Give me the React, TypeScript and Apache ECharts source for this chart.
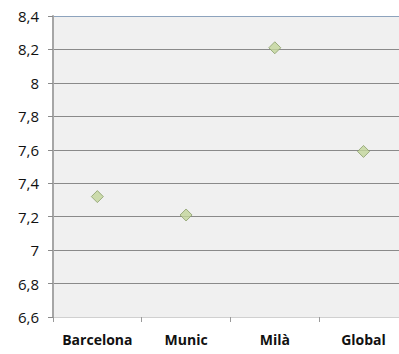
import React, { useEffect, useRef } from "react";
import * as echarts from "echarts";

const categories = ["Barcelona", "Munic", "Milà", "Global"];
const values = [7.32, 7.21, 8.21, 7.59];
const yMin = 6.6;
const yMax = 8.4;
const yStep = 0.2;

export default function App() {
  const ref = useRef<HTMLDivElement>(null);
  useEffect(() => {
    document.body.style.margin = "0";
    document.body.style.overflow = "hidden";
    const chart = echarts.init(ref.current!, null, { renderer: "svg" });
    const splitColors = Array.from({ length: 10 }, (_, i) => (i === 9 ? "#8da3bd" : "#8a8a8a"));
    const slots = categories.map((_, i) => i);
    const centers = categories.map((_, i) => i + 0.5);
    chart.setOption({
      animation: false,
      backgroundColor: "#ffffff",
      grid: {
        left: 53,
        top: 16,
        bottom: 37,
        right: 0,
        outerBoundsMode: "none",
        containLabel: false,
        show: true,
        backgroundColor: "#f0f0f0",
        borderWidth: 0,
      },
      xAxis: {
        type: "value",
        min: 0,
        max: 3.9,
        splitLine: { show: false },
        axisLine: { show: true, onZero: false, lineStyle: { color: "#d0d0d0", width: 1 } },
        axisTick: { show: true, customValues: slots, length: 5, lineStyle: { color: "#9a9a9a" } },
        axisLabel: {
          customValues: centers,
          showMinLabel: true,
          showMaxLabel: true,
          margin: 15,
          fontFamily: "Open Sans",
          fontWeight: "bold",
          fontSize: 14,
          color: "#111",
          formatter: (v: number) => categories[Math.floor(v)] ?? "",
        },
      },
      yAxis: {
        type: "value",
        min: yMin,
        max: yMax,
        interval: yStep,
        axisLine: { show: true, lineStyle: { color: "#a6a6a6", width: 2 } },
        axisTick: { show: true, length: 5, lineStyle: { color: "#8a8a8a" } },
        splitLine: { show: true, lineStyle: { color: splitColors, width: 1 } },
        axisLabel: {
          margin: 14,
          fontFamily: "Open Sans",
          fontSize: 15,
          color: "#111",
          formatter: (v: number) => {
            const r = Math.round(v * 10) / 10;
            return String(r).replace(".", ",");
          },
        },
      },
      series: [
        {
          type: "scatter",
          data: values.map((v, i) => [centers[i], v]),
          symbol: "diamond",
          symbolSize: 12,
          itemStyle: { color: "#c3d69b", borderColor: "#8a9e6a", borderWidth: 1 },
        },
      ],
    });
    return () => chart.dispose();
  }, []);
  return <div ref={ref} style={{ width: 399, height: 354 }} />;
}
